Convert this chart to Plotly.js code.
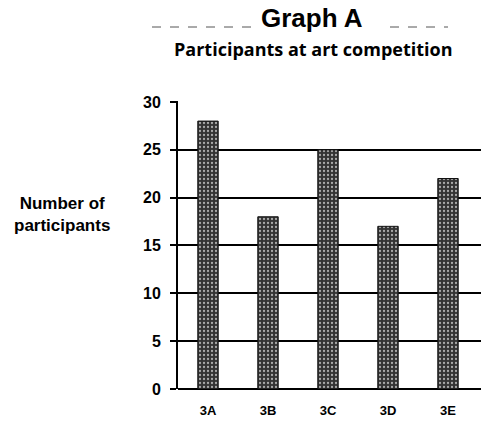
<!DOCTYPE html>
<html><head><meta charset="utf-8">
<script src="https://cdn.plot.ly/plotly-3.0.1.min.js"></script>
<style>html,body{margin:0;padding:0;background:#fff;}#chart{width:481px;height:427px;}</style>
</head><body><div id="chart"></div>
<script>
const classes = ["3A", "3B", "3C", "3D", "3E"];
const participants = [28, 18, 25, 17, 22];
const yTicks = [0, 5, 10, 15, 20, 25, 30];

const trace = {
  type: 'bar',
  x: classes,
  y: participants,
  marker: {
    color: '#333',
    line: {color: '#111', width: 1},
    pattern: {shape: '.', fgcolor: '#aaaaaa', bgcolor: '#333', size: 4, solidity: 0.25}
  },
  hoverinfo: 'none'
};

const layout = {
  width: 481, height: 427,
  margin: {l: 178, r: 0, t: 101, b: 38},
  paper_bgcolor: '#fff', plot_bgcolor: '#fff',
  showlegend: false,
  bargap: 0.66,
  font: {family: 'Liberation Sans, Arial, sans-serif', color: '#000'},
  xaxis: {
    type: 'category',
    range: [-0.5, 4.55],
    showgrid: false, zeroline: false, showline: false,
    ticks: '', ticklabelstandoff: 12,
    tickfont: {size: 13, family: 'Liberation Sans', weight: 'bold'}
  },
  yaxis: {
    range: [0, 30.1],
    tickvals: yTicks,
    ticktext: yTicks.map(String),
    showgrid: true, gridcolor: '#000', gridwidth: 2,
    zeroline: true, zerolinecolor: '#000', zerolinewidth: 2,
    showline: true, linecolor: '#000', linewidth: 2,
    ticks: 'outside', ticklen: 6, tickcolor: '#000', tickwidth: 2,
    ticklabelstandoff: 6,
    tickfont: {size: 16, family: 'Liberation Sans', weight: 'bold'}
  },
  annotations: [
    {text: '<b>Graph A</b>', xref: 'paper', yref: 'paper', x: (312-178)/303, y: 1 + (101-18)/288,
     xanchor: 'center', yanchor: 'middle', showarrow: false,
     font: {size: 26, family: 'Liberation Sans', color: '#000'}},
    {text: '<b>Participants at art competition</b>', xref: 'paper', yref: 'paper', x: (313-178)/303, y: 1 + (101-49)/288,
     xanchor: 'center', yanchor: 'middle', showarrow: false,
     font: {size: 18, family: 'Open Sans', color: '#000'}},
    {text: '<b>Number of<br>participants</b>', xref: 'paper', yref: 'paper', x: (62-178)/303, y: (389-214)/288,
     xanchor: 'center', yanchor: 'middle', showarrow: false, align: 'center',
     font: {size: 17, family: 'Liberation Sans', color: '#000'}}
  ],
  shapes: [
    {type: 'line', xref: 'paper', yref: 'paper', x0: (152-178)/303, x1: (252-178)/303,
     y0: 1 + (101-27)/288, y1: 1 + (101-27)/288, line: {color: '#555', width: 1, dash: 'dash'}},
    {type: 'line', xref: 'paper', yref: 'paper', x0: (390-178)/303, x1: (448-178)/303,
     y0: 1 + (101-27)/288, y1: 1 + (101-27)/288, line: {color: '#555', width: 1, dash: 'dash'}}
  ]
};

Plotly.newPlot('chart', [trace], layout, {staticPlot: true, displayModeBar: false});
</script>
</body></html>
